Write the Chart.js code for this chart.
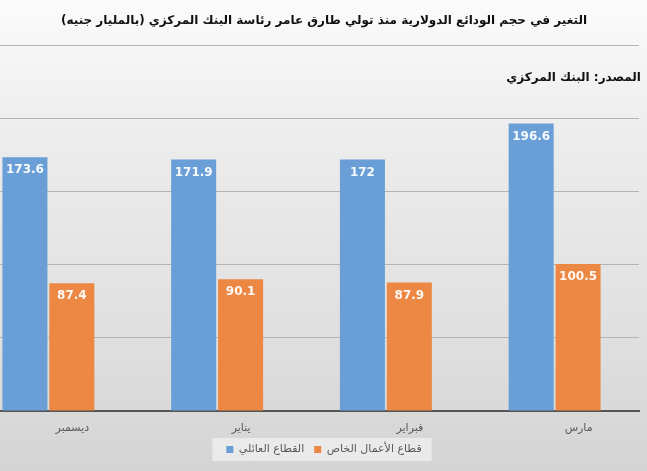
<!DOCTYPE html>
<html lang="ar">
<head>
<meta charset="utf-8">
<script src="https://cdn.jsdelivr.net/npm/chart.js@4"></script>
<style>
  html, body { margin: 0; padding: 0; }
  body {
    width: 647px; height: 471px; overflow: hidden; position: relative;
    background: linear-gradient(to bottom, #fbfbfb 0%, #ececec 30%, #e0e0e0 70%, #d4d4d4 100%);
    font-family: "DejaVu Sans", Arial, sans-serif;
  }
  #wrap { position: absolute; left: -40px; top: 0; width: 724px; height: 471px; }
  #source {
    position: absolute; right: 6px; top: 70px;
    font-weight: bold; font-size: 12px; color: #111; direction: rtl;
  }
</style>
</head>
<body>
<div id="wrap"><canvas id="depositsChart"></canvas></div>
<div id="source">المصدر: البنك المركزي</div>
<script>
// --- DATOS ---
const months = ['ديسمبر', 'يناير', 'فبراير', 'مارس'];
const householdValues = [173.6, 171.9, 172, 196.6];
const businessValues = [87.4, 90.1, 87.9, 100.5];
const seriesNames = ['القطاع العائلي', 'قطاع الأعمال الخاص'];
const yTicks = [0, 50, 100, 150, 200, 250];
const chartTitle = 'التغير في حجم الودائع الدولارية منذ تولي طارق عامر رئاسة البنك المركزي (بالمليار جنيه)';

// Etiquetas de valor dentro de cada barra
const valueLabels = {
    id: 'valueLabels',
    afterDatasetsDraw(chart) {
        const ctx = chart.ctx;
        ctx.save();
        ctx.font = 'bold 12px "DejaVu Sans", Arial, sans-serif';
        ctx.fillStyle = 'rgba(255,255,255,0.95)';
        ctx.textAlign = 'center';
        ctx.textBaseline = 'middle';
        chart.data.datasets.forEach((ds, i) => {
            chart.getDatasetMeta(i).data.forEach((bar, j) => {
                ctx.fillText(String(ds.data[j]), bar.x, bar.y + 13);
            });
        });
        ctx.restore();
    }
};

// Fondo claro detrás de la leyenda
const legendBg = {
    id: 'legendBg',
    beforeDraw(chart) {
        const boxes = chart.legend && chart.legend.legendHitBoxes;
        if (!boxes || !boxes.length) return;
        const left = Math.min(...boxes.map(b => b.left)) - 14;
        const right = Math.max(...boxes.map(b => b.left + b.width)) + 10;
        const top = boxes[0].top - 6;
        const ctx = chart.ctx;
        ctx.save();
        ctx.fillStyle = 'rgba(240,240,240,0.75)';
        ctx.fillRect(left, top, right - left, 23);
        ctx.restore();
    }
};

const ctx = document.getElementById('depositsChart').getContext('2d');
new Chart(ctx, {
    type: 'bar',
    data: {
        labels: months,
        datasets: [
            {
                label: seriesNames[0],
                data: householdValues,
                backgroundColor: '#699fd6',
                categoryPercentage: 0.556,
                barPercentage: 0.96
            },
            {
                label: seriesNames[1],
                data: businessValues,
                backgroundColor: '#ec8843',
                categoryPercentage: 0.556,
                barPercentage: 0.96
            }
        ]
    },
    options: {
        responsive: true,
        maintainAspectRatio: false,
        animation: false,
        layout: { padding: { left: 4, right: 0, top: 0, bottom: 6 } },
        plugins: {
            title: {
                display: true,
                text: chartTitle,
                color: '#111',
                font: { family: '"DejaVu Sans", Arial, sans-serif', size: 12, weight: 'bold' },
                padding: { top: 14, bottom: 17 }
            },
            legend: {
                position: 'bottom',
                labels: {
                    boxWidth: 7, boxHeight: 7,
                    color: '#595959',
                    font: { family: '"DejaVu Sans", Arial, sans-serif', size: 11 },
                    padding: 10
                }
            },
            tooltip: { enabled: false }
        },
        scales: {
            x: {
                grid: { display: false, drawTicks: false },
                border: { display: true, color: '#555', width: 2 },
                ticks: {
                    color: '#595959',
                    font: { family: '"DejaVu Sans", Arial, sans-serif', size: 11 },
                    labelOffset: 24,
                    padding: 11
                },
                afterFit: axis => { axis.height = 23; }
            },
            y: {
                position: 'right',
                min: 0,
                max: 250,
                afterBuildTicks: axis => { axis.ticks = yTicks.map(v => ({ value: v })); },
                ticks: { display: false },
                grid: { color: '#b4b4b4', drawTicks: false },
                border: { display: false },
                afterFit: axis => { axis.width = 45; }
            }
        }
    },
    plugins: [legendBg, valueLabels]
});
</script>
</body>
</html>
